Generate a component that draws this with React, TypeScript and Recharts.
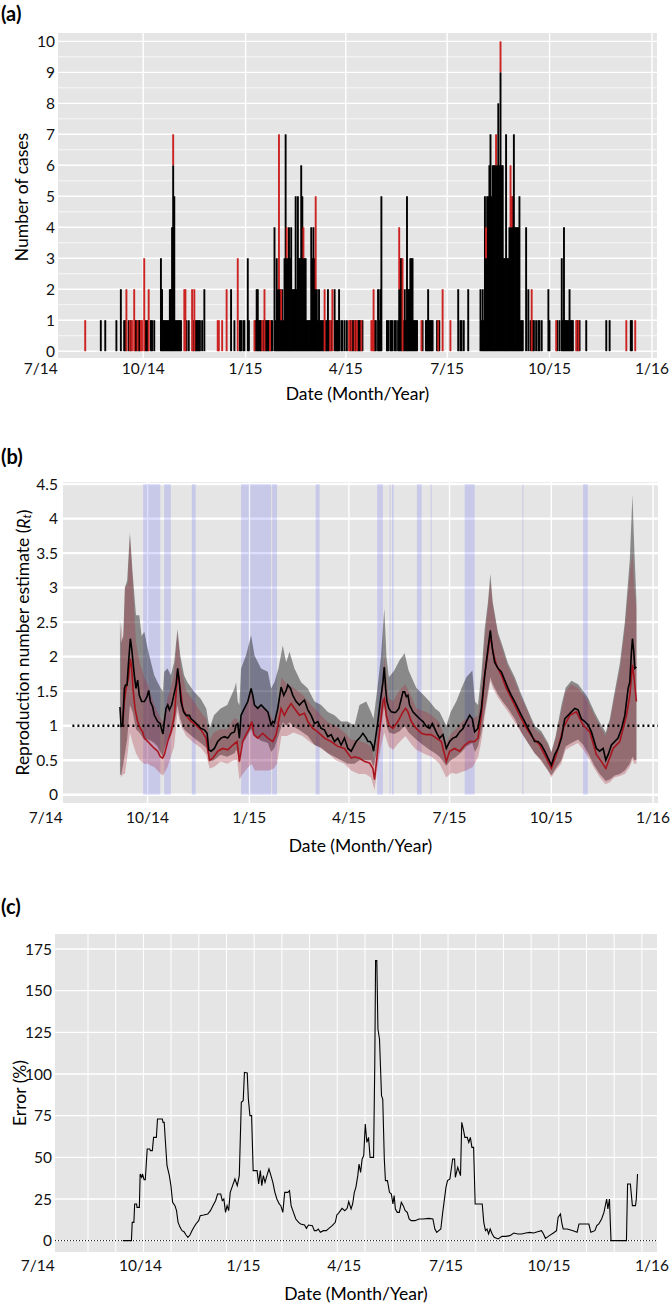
import React from "react";
import {
  Area,
  Bar,
  BarChart,
  CartesianGrid,
  ComposedChart,
  Label,
  Line,
  LineChart,
  ReferenceArea,
  ReferenceLine,
  XAxis,
  YAxis,
} from "recharts";

// x positions are days since 1 Jul 2014
const tickDays = [0, 92, 184, 274, 365, 457, 549];
const tickNames = ["7/14", "10/14", "1/15", "4/15", "7/15", "10/15", "1/16"];
const gridDays = [92, 184, 274, 365, 457, 549];
const dayDomain: [number, number] = [15.5, 553.5];

// (a) daily cases: [day, count]
const blackCases: [number, number][] = [
  [54,1],[58,1],[68,1],[72,2],[75,1],[76,1],[79,1],[81,1],[85,1],[86,1],[88,1],[89,1],[94,1],[95,1],[96,1],[99,1],[100,1],[102,1],
  [108,3],[109,2],[110,1],[111,1],[112,1],[113,1],[114,1],[115,1],[116,2],[117,2],[118,4],[119,6],[120,5],[121,1],[122,1],[123,1],
  [124,1],[125,1],[126,1],[131,1],[133,1],[137,1],[139,1],[140,1],[141,1],[142,1],[143,1],[145,1],[147,2],
  [171,2],[174,1],[179,1],[180,1],[182,1],[183,1],[186,3],[187,1],[193,1],[194,2],[195,2],[196,1],[197,1],[198,1],[200,1],[202,1],
  [203,1],[204,1],[205,1],[207,1],[208,1],[210,4],[211,1],[212,3],[213,2],[214,2],[215,2],[216,1],[217,2],[218,1],[219,3],[220,7],
  [221,3],[222,3],[223,4],[224,3],[225,4],[226,2],[227,2],[228,2],[229,5],[230,2],[231,5],[232,3],[233,3],[234,6],[235,5],[236,3],
  [237,3],[238,3],[239,1],[240,1],[241,1],[242,1],[243,4],[244,3],[245,4],[246,3],[247,2],[248,2],[249,1],[250,2],[251,1],[252,1],
  [253,1],[254,1],[256,1],[257,1],[258,2],[259,1],[261,1],[264,2],[265,1],[266,1],[267,1],[268,2],[270,1],[271,1],[273,1],[275,1],
  [278,1],[280,1],[281,1],[283,1],[285,1],[286,1],[287,1],[289,1],[300,1],[301,1],[303,2],[304,1],[305,2],[306,5],[311,1],[312,1],
  [314,1],[315,1],[316,1],[318,1],[319,1],[321,1],[322,2],[323,3],[324,3],[326,1],[327,2],[328,1],[329,5],[330,2],[331,2],[332,3],
  [333,3],[334,3],[335,1],[336,1],[337,1],[338,1],[343,1],[346,1],[347,1],[348,2],[349,1],[350,1],[351,1],[352,1],[356,1],[358,1],
  [375,2],[377,1],[378,1],[380,1],[384,2],
  [395,2],[396,1],[397,2],[398,1],[399,5],[400,3],[401,5],[402,5],[403,6],[404,7],[405,5],[406,6],[407,6],[408,6],[409,6],[410,6],
  [411,8],[412,6],[413,9],[414,6],[415,6],[416,3],[417,3],[418,7],[419,3],[420,3],[421,4],[422,4],[423,4],[424,5],[425,7],[426,4],
  [427,4],[428,4],[429,4],[430,5],[431,1],[432,1],[433,1],[436,4],[438,2],[440,1],[442,1],[443,1],[445,1],[447,1],[448,1],[450,1],
  [456,2],[457,1],[464,1],[466,1],[468,3],[469,1],[470,4],[471,1],[472,1],[473,1],[474,1],[475,2],[476,1],[477,1],[478,1],[482,1],
  [484,1],[490,1],[508,1],[511,1],[530,1],[531,1],
];
const redCases: [number, number][] = [
  [40,1],[77,2],[80,1],[82,1],[84,2],[87,1],[90,1],[91,1],[93,3],[97,2],[119,1],[129,2],[130,2],[136,2],[138,2],[159,1],[160,1],
  [163,1],[167,2],[177,3],[192,1],[199,1],[201,2],[206,1],[214,5],[216,1],[221,1],[236,1],[247,3],[255,2],[260,1],[262,2],[277,1],
  [279,1],[282,1],[284,1],[288,1],[297,1],[298,1],[299,2],[322,2],[325,3],[342,1],[357,1],[361,2],[368,1],[400,1],[409,1],[413,1],
  [422,2],[423,1],[441,2],[463,1],[481,1],[483,1],[526,1],[534,1],
];

// (b) reproduction number estimates: [day, Rt]
const blackRt: [number, number][] = [
  [67,1.27],[68,0.99],[69.4,1.0],[71,1.54],[72,1.59],[73.4,1.59],[74.6,1.88],[76.4,2.26],[77.6,2.12],[78.8,1.92],[80,1.73],[81.5,1.54],
  [83,1.66],[84.5,1.44],[86.6,1.35],[89.1,1.35],[91.5,1.42],[93,1.51],[94.5,1.35],[96.6,1.27],[98.1,1.15],[101.1,1.06],[103.5,1.03],
  [104.7,0.94],[105.9,0.88],[107.1,1.06],[108.7,1.25],[110.2,1.3],[111.7,1.23],[113.8,1.3],[115.6,1.44],[117.7,1.59],[119.2,1.83],
  [120.7,1.63],[122.2,1.35],[124.6,1.2],[126.8,1.15],[129.8,1.15],[131.3,1.1],[134.3,1.06],[137.3,1.01],[140.3,0.96],[143.3,0.94],
  [145.8,0.89],[147.3,0.65],[149.4,0.63],[152.4,0.67],[155.4,0.77],[158.4,0.82],[161.4,0.84],[164.5,0.82],[167.5,0.89],[170.5,0.91],
  [172,1.01],[173.5,1.03],[175,0.82],[176.5,1.15],[179.5,1.25],[182.6,1.35],[185.6,1.54],[187.1,1.44],[188.6,1.3],[191.6,1.25],
  [194.6,1.3],[197.6,1.25],[200.7,1.2],[203.7,1.01],[205.2,1.06],[206.7,1.04],[209.7,1.25],[212.7,1.56],[215.1,1.44],[217.3,1.51],
  [218.8,1.59],[221.2,1.54],[223.3,1.44],[226.3,1.35],[229.3,1.3],[232.3,1.35],[233.8,1.37],[236.9,1.23],[239.9,1.15],[242.9,1.03],
  [245.9,1.06],[248.9,0.96],[251.9,0.94],[255,0.84],[258,0.87],[261,0.77],[264,0.82],[267,0.72],[270,0.82],[273.1,0.67],[276.1,0.63],
  [280.6,0.77],[283.6,0.82],[286.7,0.89],[289.7,0.82],[291.2,0.77],[293.3,0.77],[295.1,0.72],[296.3,0.63],[298.1,0.82],[300.2,1.06],
  [302.4,1.35],[304.8,1.63],[306,1.85],[307.2,1.54],[308.4,1.35],[310.2,1.25],[312.3,1.2],[315.3,1.19],[316.8,1.2],[319.2,1.25],
  [321.4,1.39],[322.9,1.49],[324.4,1.49],[325.9,1.42],[327.4,1.44],[328.9,1.3],[331.9,1.2],[334.9,1.15],[338,1.1],[341,1.06],[344,0.99],
  [347,0.96],[349.4,1.03],[351.5,0.96],[353.6,0.89],[356,0.82],[359.1,0.87],[362.1,0.67],[365.1,0.77],[368.1,0.82],[371.1,0.84],
  [374.1,0.91],[377.2,0.96],[380.2,1.06],[383.2,1.15],[385.6,1.1],[387.7,0.91],[390.7,0.96],[393.8,1.25],[396.8,1.73],[399.8,2.12],
  [401.9,2.38],[403.7,2.12],[405.8,1.92],[408.8,1.83],[411.9,1.78],[414.9,1.66],[417.9,1.54],[420.9,1.44],[423.9,1.35],[426.9,1.25],
  [430,1.15],[433,1.06],[436,0.96],[439,0.87],[442,0.77],[445,0.77],[448.1,0.72],[451.1,0.63],[454.1,0.53],[457.1,0.43],[460.1,0.58],
  [463.1,0.67],[466.2,0.82],[469.2,1.1],[472.2,1.15],[475.2,1.2],[478.2,1.25],[481.2,1.23],[484.2,1.1],[487.3,1.06],[490.3,1.01],
  [493.3,0.91],[497.8,0.67],[500.8,0.63],[503.9,0.67],[506.3,0.5],[508.4,0.58],[511.4,0.72],[514.4,0.77],[517.4,0.82],[520.5,0.96],
  [523.5,1.15],[526.5,1.54],[528,1.63],[529.5,2.07],[530.4,2.26],[531.6,2.07],[532.5,1.83],[534,1.85],
];
const redRt: [number, number][] = [
  [67.9,0.99],[69.4,1.0],[71,1.35],[72.5,1.54],[74.6,1.68],[76.4,1.97],[77.6,1.83],[78.8,1.54],[80.6,1.25],[83,1.06],[85.4,0.96],
  [87.5,0.91],[89.1,0.82],[92.1,0.77],[95.1,0.72],[98.1,0.67],[101.1,0.63],[103.5,0.55],[105.6,0.53],[107.1,0.58],[110.2,0.77],
  [113.2,0.91],[116.2,1.15],[119.2,1.78],[121.6,1.54],[123.7,1.25],[126.8,1.15],[131.3,1.06],[134.3,1.03],[140.3,0.94],[144.9,0.82],
  [147.9,0.5],[150.9,0.53],[155.4,0.63],[159.9,0.67],[164.5,0.65],[169,0.72],[172.9,0.77],[175,0.48],[178,0.77],[181,0.87],[184.1,0.96],
  [186.2,1.06],[188,0.87],[191.6,0.82],[196.1,0.89],[200.7,0.82],[205.2,0.77],[208.2,0.87],[212.7,1.25],[215.7,1.15],[218.8,1.25],
  [221.8,1.32],[224.8,1.25],[229.3,1.15],[233.8,1.18],[236.9,1.06],[241.4,0.96],[245.9,0.91],[251.9,0.82],[258,0.77],[264,0.7],
  [270,0.67],[276.1,0.53],[279.1,0.55],[283.6,0.53],[288.2,0.48],[292.7,0.46],[295.7,0.38],[297.2,0.22],[299.3,0.53],[302.4,1.01],
  [304.8,1.35],[306,1.39],[307.8,1.15],[310.2,1.01],[313.8,0.96],[318.3,1.06],[322.9,1.2],[325.3,1.25],[327.4,1.2],[330.4,1.06],
  [334.9,0.96],[339.5,0.89],[344,0.87],[348.5,0.87],[353,0.82],[357.6,0.77],[362.1,0.48],[365.1,0.63],[369.6,0.67],[374.1,0.63],
  [378.7,0.72],[383.2,0.77],[387.7,0.77],[390.7,0.82],[393.8,1.15],[396.8,1.73],[399.8,2.07],[401.9,2.31],[404.3,2.07],[407.3,1.88],
  [411.9,1.73],[416.4,1.54],[422.4,1.35],[428.4,1.15],[434.5,0.96],[440.5,0.82],[446.5,0.72],[452.6,0.53],[457.1,0.38],[461.6,0.58],
  [467.7,0.96],[473.7,1.15],[479.7,1.2],[485.8,1.01],[491.8,0.91],[497.8,0.58],[502.4,0.48],[506.3,0.38],[512.9,0.67],[518.9,0.77],
  [525,1.15],[528,1.44],[530.4,1.88],[531.6,1.73],[534,1.35],
];
// credible intervals: [day, lower, upper]
const blackRtBand: [number, number, number][] = [
  [67,0.3,2.55],[68,0.28,2.2],[70,0.45,2.3],[71.5,0.6,3.0],[73.5,0.8,3.1],[76,1.3,3.8],[78.5,1.2,3.2],[81.5,0.95,2.6],[84.5,0.9,2.6],
  [86.6,0.85,2.3],[89,0.8,2.36],[92,0.8,2.12],[95,0.78,1.92],[98,0.75,1.73],[101,0.7,1.63],[104,0.6,1.54],[106,0.55,1.5],[107,0.65,1.78],
  [110,0.8,1.83],[113,0.85,1.73],[116,1.0,1.92],[119,1.3,2.4],[121.5,1.1,2.02],[125,0.95,1.73],[128,0.9,1.63],[134,0.82,1.49],
  [140,0.75,1.39],[145,0.68,1.25],[148,0.48,0.96],[152,0.5,1.15],[158,0.58,1.25],[164,0.55,1.3],[170.5,0.6,1.54],[172,0.65,1.63],
  [173.5,0.6,1.35],[175,0.45,1.3],[176.5,0.72,1.83],[181,0.82,2.02],[185.6,0.95,2.31],[188.6,0.85,2.02],[194.6,0.78,1.83],
  [200.7,0.75,1.78],[203.7,0.62,1.54],[206.7,0.68,1.63],[210.3,0.85,1.83],[214.2,1.05,2.16],[217.3,1.0,1.92],[220.3,1.05,2.07],
  [224.8,0.98,1.83],[230.8,0.92,1.63],[236.9,0.85,1.54],[242.9,0.72,1.35],[248.9,0.68,1.3],[255,0.6,1.2],[261,0.55,1.15],
  [267,0.5,1.06],[273,0.45,1.06],[279,0.45,1.0],[283.6,0.5,1.3],[289.7,0.5,1.35],[294,0.5,1.2],[296.3,0.4,1.1],[300.2,0.7,1.6],
  [303,1.0,2.0],[306,1.3,2.7],[308,1.0,2.0],[310.2,0.9,1.7],[315,0.88,1.8],[319.9,0.92,1.95],[324.4,1.0,2.05],[328,0.9,1.8],
  [334.9,0.8,1.55],[341,0.72,1.45],[347,0.65,1.35],[352,0.6,1.25],[356,0.55,1.2],[362.1,0.42,1.0],[366,0.5,1.2],[371.1,0.55,1.35],
  [376,0.62,1.55],[380.2,0.7,1.7],[385.6,0.75,1.8],[388,0.62,1.35],[390.7,0.7,1.3],[393.8,0.9,1.75],[396.8,1.2,2.4],[399.8,1.5,2.8],
  [401.9,1.7,3.2],[404,1.6,2.8],[408.8,1.45,2.35],[413,1.35,2.15],[417.9,1.25,1.9],[424,1.1,1.7],[429.9,0.9,1.45],[436,0.75,1.22],
  [442,0.6,1.0],[448,0.5,0.92],[454.1,0.35,0.75],[457.1,0.28,0.62],[461,0.38,0.85],[466.2,0.5,1.3],[470,0.7,1.55],[475.2,0.75,1.65],
  [481.2,0.8,1.6],[486,0.72,1.5],[490.3,0.6,1.4],[496,0.42,1.2],[500.8,0.3,1.05],[506.3,0.2,0.9],[510,0.22,1.1],[514.4,0.28,1.5],
  [519,0.3,1.9],[523.5,0.35,2.5],[528,0.45,3.4],[530.4,0.55,4.35],[532,0.5,3.6],[534,0.5,2.8],
];
const redRtBand: [number, number, number][] = [
  [67.9,0.25,2.5],[70,0.3,2.2],[71.5,0.3,3.0],[74,0.6,3.05],[76,0.9,3.75],[78.5,0.75,3.1],[81.5,0.6,2.2],[85,0.5,1.9],[89,0.45,1.7],
  [92,0.45,1.6],[95,0.42,1.45],[98,0.4,1.3],[101,0.35,1.2],[104,0.3,1.1],[106,0.28,1.05],[110,0.4,1.4],[113,0.55,1.55],[116,0.7,1.75],
  [119,1.2,2.35],[122,1.0,1.85],[127,0.85,1.5],[134,0.75,1.35],[140,0.68,1.2],[145,0.58,1.1],[148,0.38,0.8],[152,0.4,0.9],
  [158,0.48,0.95],[164,0.45,0.95],[170,0.5,1.1],[173,0.5,1.1],[175,0.22,0.85],[178,0.3,1.15],[182,0.38,1.3],[186,0.45,1.55],
  [189,0.35,1.3],[196,0.35,1.25],[202,0.35,1.2],[206,0.38,1.05],[209,0.45,1.2],[213,0.85,1.7],[218,0.85,1.6],[224,0.9,1.55],
  [232,0.85,1.45],[240,0.75,1.3],[246,0.7,1.2],[255,0.6,1.05],[262,0.5,1.0],[270,0.45,0.9],[276,0.35,0.8],[283,0.3,0.78],
  [289,0.3,0.75],[294,0.25,0.7],[297.2,0.07,0.5],[300,0.4,1.0],[303,0.7,1.5],[306,0.9,2.0],[310,0.7,1.4],[314,0.65,1.35],
  [319,0.75,1.5],[325,0.85,1.6],[331,0.72,1.4],[335,0.65,1.25],[344,0.58,1.2],[349,0.55,1.15],[356,0.45,1.05],[362,0.25,0.75],
  [367,0.32,0.9],[371,0.3,0.95],[376,0.33,1.05],[380,0.35,1.1],[386,0.4,1.1],[391,0.55,1.15],[394,0.8,1.6],[397,1.15,2.3],
  [400,1.45,2.75],[402,1.65,3.1],[404,1.55,2.75],[409,1.4,2.3],[418,1.2,1.85],[424,1.05,1.65],[430,0.9,1.4],[436,0.75,1.2],
  [442,0.6,0.95],[448,0.48,0.88],[454,0.35,0.72],[457,0.25,0.6],[461,0.35,0.82],[466,0.45,1.2],[470,0.65,1.5],[475,0.7,1.6],
  [481,0.75,1.55],[486,0.65,1.45],[490,0.55,1.35],[496,0.38,1.15],[501,0.25,1.0],[506,0.15,0.85],[510,0.18,1.05],[514,0.25,1.4],
  [519,0.27,1.8],[523.5,0.3,2.4],[528,0.4,3.2],[530.4,0.5,3.5],[532,0.45,3.0],[534,0.45,2.7],
];
// shaded periods: [start day, end day]
const shadedPeriods: [number, number][] = [
  [88,103.5],[107,113],[132,135.5],[176.5,184],[184.8,203.7],[204.6,209],[244,247.5],[299.6,304.8],[310.8,311.7],[313,314.4],
  [335.5,339.8],[347.9,348.8],[378.7,387.7],[430.9,431.8],[485.8,490],
];
const thresholdLine: [number, number][] = [[24,1],[553.5,1]];

// (c) error (%): [day, value]
const errorPct: [number, number][] = [
  [76.1,0],[83.8,0],[84.5,11],[86,11],[86.7,22],[88.4,22],[88.8,20],[90.9,20],[91.6,40],[93,38],[93.7,40],[95.1,36.6],[96.2,36.6],
  [97.9,55],[100.1,55],[100.8,54],[102.5,54],[103.6,62],[106.1,62],[107.1,73],[111.4,73],[112.1,71],[113.1,71],[114.2,59],[115.6,45],
  [117.7,39],[119.1,33],[120.6,23],[122.7,21],[124.1,18],[125.5,11],[127.3,8],[129,6],[130.8,5.4],[132.6,3.4],[134.3,2],[136.1,3.4],
  [137.9,6],[139.6,8],[141.4,10],[143.9,12],[145.3,15],[148.4,15.4],[152,16],[154.4,18],[156.6,21],[159,24],[160.8,28],[163.6,28],
  [165,24],[166.4,25],[167.9,17],[169.3,21],[170.7,18],[172.1,29],[174.2,33],[176.3,37],[178.4,33],[180.2,39],[182,83],[183.7,84],
  [184.8,101],[187.3,100.6],[188.3,85],[189.7,75],[191.2,75],[192.6,42],[196.1,42],[197.5,34],[199,42],[200.3,33],[201.7,39],
  [203.2,35],[204.9,39],[206.7,43],[208.5,39],[210.2,35],[212,29],[213.8,25],[215.9,22],[217.3,21],[219.1,17],[220.8,29],[223.6,29],
  [225.1,30],[226.5,21],[228.6,17],[230.7,13],[233.2,11],[235,10],[238.5,9.4],[240.2,7.4],[242,9.4],[245.5,9],[247.3,6],[249.1,6],
  [250.8,7],[252.6,5],[255.4,6],[257.9,6],[260.3,7.4],[263.2,9],[266,11],[267.4,15.4],[269.5,17],[272,19.4],[274.5,18],[276.6,19.4],
  [278,23.4],[280.1,19],[281.5,22],[283,29],[284.4,32],[286.1,39],[287.2,46],[288.6,41],[290,49],[291.4,51],[292.8,70],[294.2,59],
  [295.7,62],[297.1,50],[300.2,50],[301.3,107],[302,168],[303.1,168],[304.1,127],[305.5,121],[307.3,87],[308.4,85],[309.8,49],
  [310.8,36],[312.6,36],[314.4,29],[316.1,28],[317.5,22],[318.6,27],[319.7,19],[321.4,17],[323.2,17],[325,23],[326.7,21],[328.5,18],
  [330.3,17],[332,13],[333.8,12],[337.3,12],[340.8,13],[344.4,13],[349.7,13.4],[353.2,13],[355,7],[356.7,5],[358.5,6],[360.3,7],
  [362,17],[364.9,32],[366.3,36],[368.4,37],[370.9,49],[372.6,49],[373.3,38],[375.4,44],[377.9,39],[379,71],[380.4,67],[381.8,62],
  [383.9,62],[385.3,59],[386.7,62],[388.1,56],[389.6,56],[391,22],[397.3,22],[398.7,11],[400.2,6],[401.6,7],[403,4],[404.4,7],
  [406.2,4],[408,2],[411.5,1],[415,2.6],[418.5,2.6],[422,3],[425.6,4.6],[429.1,4],[432.6,4],[436.2,4.6],[439.7,5],[443.2,4.6],
  [446.8,5.4],[450.3,6],[452.1,4],[453.8,1.4],[457.3,3],[460.9,4.6],[463.7,6],[465.1,14],[467.2,16],[468.6,10],[469.7,7],[473.2,7],
  [478.5,6],[482.1,5],[483.8,10],[489.1,10],[492.6,10],[494.4,5],[498,6],[499.7,9],[501.5,10],[504,13],[506.1,17],[508.5,25],
  [509.6,19],[511,25],[512.4,0],[526.2,0],[527.2,34],[529.7,34],[531.5,21],[534.3,21],[535,25],[536.1,40],
];

const caseTicks = [0, 1, 2, 3, 4, 5, 6, 7, 8, 9, 10];
const caseMinor = [0.5, 1.5, 2.5, 3.5, 4.5, 5.5, 6.5, 7.5, 8.5, 9.5];
const rtTicks = [0, 0.5, 1, 1.5, 2, 2.5, 3, 3.5, 4, 4.5];
const errTicks = [0, 25, 50, 75, 100, 125, 150, 175];
const errGridDays = Array.from({ length: 21 }, (_, k) => 45 + 24.75 * k);

const caseDomain: [number, number] = [-0.22, 10.27];
const rtDomain: [number, number] = [-0.12, 4.53];
const errDomain: [number, number] = [-6.8, 184];

const caseTable: { day: number; black: number; red: number }[] = [];
for (let d = 16; d <= 553; d++) caseTable.push({ day: d, black: 0, red: 0 });
blackCases.forEach(([d, n]) => { caseTable[d - 16].black = n; });
redCases.forEach(([d, n]) => { caseTable[d - 16].red = n; });

const rows = (pts: [number, number][]) => pts.map(([d, v]) => ({ d, v }));
const bands = (pts: [number, number, number][]) => pts.map(([d, lo, hi]) => ({ d, r: [lo, hi] }));

const fmtDay = (v: number) => tickNames[tickDays.indexOf(v)] ?? "";
const FONT = "Lato, 'Open Sans', sans-serif";
const tickStyle = { fontSize: 15.5, fill: "#111", fontFamily: FONT };
const TITLE_SIZE = 17.5;
const GREY = "#e5e5e5";

// grid line positions from the plot offset and the axis domain
const gridX = (values: number[]) => ({ offset }: any) =>
  values.map((v) => offset.left + ((v - dayDomain[0]) / (dayDomain[1] - dayDomain[0])) * offset.width);
const gridY = (values: number[], dom: [number, number]) => ({ offset }: any) =>
  values.map((v) => offset.top + ((dom[1] - v) / (dom[1] - dom[0])) * offset.height);

// thin daily bars, slightly widened so neighbouring days merge like the original
const DayBar = (p: any) =>
  p.height > 0 ? <rect x={p.x - 0.45} y={p.y} width={p.width + 0.9} height={p.height} fill={p.fill} /> : <g />;

const yTitle = (x: number, y: number, body: React.ReactNode) => (
  <text x={x} y={y} transform={`rotate(-90 ${x} ${y})`} textAnchor="middle" dominantBaseline="central"
    fontFamily={FONT} fontSize={TITLE_SIZE} fill="#000">{body}</text>
);

const xTitle = (offset: number) => (
  <Label value="Date (Month/Year)" position="insideBottom" offset={offset} fontSize={TITLE_SIZE} fill="#000" fontFamily={FONT} />
);

const dateAxis = (margin: number, height: number, titleOffset: number, id?: string) => (
  <XAxis xAxisId={id ?? 0} dataKey={id ? "day" : "d"} type="number" domain={dayDomain} allowDataOverflow ticks={tickDays}
    interval={0} tickFormatter={fmtDay} tick={tickStyle} tickLine={false} axisLine={false} tickSize={3}
    tickMargin={margin} height={height}>
    {xTitle(titleOffset)}
  </XAxis>
);

const PanelTag = ({ top, text }: { top: number; text: string }) => (
  <div style={{ position: "absolute", left: 1, top, fontFamily: FONT, fontWeight: 700, fontSize: 20, lineHeight: "24px" }}>{text}</div>
);

const CasesPanel = () => (
  <BarChart width={670} height={405} data={caseTable} margin={{ top: 33, right: 13, bottom: 0, left: 0 }}
    barCategoryGap={0} barGap={0}>
    <CartesianGrid fill={GREY} stroke="#fff" strokeWidth={1.4}
      horizontalCoordinatesGenerator={gridY(caseTicks, caseDomain)}
      verticalCoordinatesGenerator={gridX(gridDays)} />
    <CartesianGrid vertical={false} stroke="#fff" strokeWidth={0.7}
      horizontalCoordinatesGenerator={gridY(caseMinor, caseDomain)} />
    <XAxis dataKey="day" type="category" hide height={0} />
    {dateAxis(2, 47, 5, "date")}
    <YAxis type="number" domain={caseDomain} ticks={caseTicks} interval={0} allowDataOverflow width={58}
      tick={tickStyle} tickLine={false} axisLine={false} tickSize={3} tickMargin={0}>
      <Label content={() => yTitle(21, 197, "Number of cases")} />
    </YAxis>
    <Bar dataKey="black" stackId="n" fill="#000" shape={DayBar} isAnimationActive={false} />
    <Bar dataKey="red" stackId="n" fill="#cc2222" shape={DayBar} isAnimationActive={false} />
  </BarChart>
);

const RtPanel = () => (
  <ComposedChart width={670} height={415} margin={{ top: 42, right: 12, bottom: 0, left: 0 }}>
    <CartesianGrid fill={GREY} stroke="#fff" strokeWidth={2.4} vertical={false}
      horizontalCoordinatesGenerator={gridY(rtTicks, rtDomain)} />
    <CartesianGrid stroke="#fff" strokeWidth={1.4} horizontal={false}
      verticalCoordinatesGenerator={gridX(gridDays)} />
    {dateAxis(5.7, 52, 3.5)}
    <YAxis type="number" domain={rtDomain} ticks={rtTicks} interval={0} allowDataOverflow width={63}
      tick={tickStyle} tickLine={false} axisLine={false} tickSize={3} tickMargin={2}>
      <Label content={() => yTitle(22.5, 202.5, <>
        Reproduction number estimate (<tspan fontStyle="italic">R</tspan>
        <tspan fontStyle="italic" fontSize={12} dy={3.5}>t</tspan><tspan dy={-3.5}>)</tspan>
      </>)} />
    </YAxis>
    {shadedPeriods.map(([a, b], i) => (
      <ReferenceArea key={i} x1={a} x2={b} y1={0} y2={4.5} fill="#3d3dff" fillOpacity={0.17} stroke="none" />
    ))}
    <Area data={bands(blackRtBand)} dataKey="r" type="linear" stroke="none" fill="#000" fillOpacity={0.4}
      dot={false} activeDot={false} isAnimationActive={false} />
    <Area data={bands(redRtBand)} dataKey="r" type="linear" stroke="none" fill="#a82a38" fillOpacity={0.3}
      dot={false} activeDot={false} isAnimationActive={false} />
    <Line data={rows(thresholdLine)} dataKey="v" type="linear" stroke="#000" strokeWidth={2.4} strokeDasharray="2 3"
      dot={false} activeDot={false} isAnimationActive={false} />
    <Line data={rows(redRt)} dataKey="v" type="linear" stroke="#a8141e" strokeWidth={1.6}
      dot={false} activeDot={false} isAnimationActive={false} />
    <Line data={rows(blackRt)} dataKey="v" type="linear" stroke="#000" strokeWidth={1.6}
      dot={false} activeDot={false} isAnimationActive={false} />
  </ComposedChart>
);

const ErrorPanel = () => (
  <LineChart width={670} height={404} data={rows(errorPct)} margin={{ top: 34, right: 13, bottom: 0, left: 0 }}>
    <CartesianGrid fill={GREY} stroke="#fff" strokeWidth={1.3} vertical={false}
      horizontalCoordinatesGenerator={gridY(errTicks, errDomain)} />
    <CartesianGrid stroke="#fff" strokeWidth={1} horizontal={false}
      verticalCoordinatesGenerator={gridX(errGridDays)} />
    {dateAxis(5, 52, 4.5)}
    <YAxis type="number" domain={errDomain} ticks={errTicks} interval={0} allowDataOverflow width={55}
      tick={tickStyle} tickLine={false} axisLine={false} tickSize={3} tickMargin={0}>
      <Label content={() => yTitle(19, 193, "Error (%)")} />
    </YAxis>
    <ReferenceLine y={0} stroke="#000" strokeWidth={1} strokeDasharray="1 2" />
    <Line dataKey="v" type="linear" stroke="#000" strokeWidth={1.1} dot={false} activeDot={false} isAnimationActive={false} />
  </LineChart>
);

export default function App() {
  return (
    <div style={{ position: "absolute", left: 0, top: 0, width: 670, height: 1304, background: "#fff", fontFamily: FONT }}>
      <div style={{ position: "absolute", left: 0, top: 0 }}><CasesPanel /></div>
      <div style={{ position: "absolute", left: 0, top: 440 }}><RtPanel /></div>
      <div style={{ position: "absolute", left: 0, top: 900 }}><ErrorPanel /></div>
      <PanelTag top={1} text="(a)" />
      <PanelTag top={444} text="(b)" />
      <PanelTag top={894} text="(c)" />
    </div>
  );
}
